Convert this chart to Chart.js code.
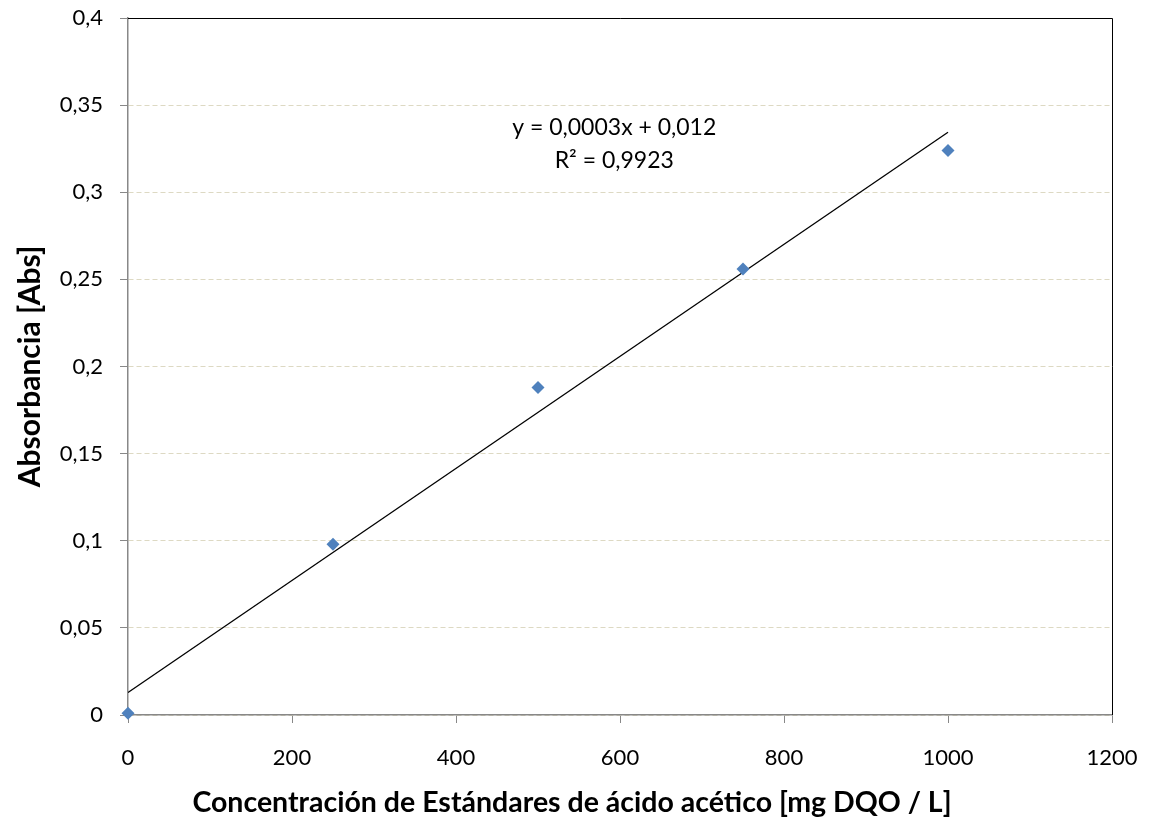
<!DOCTYPE html>
<html lang="es">
<head>
    <meta charset="UTF-8">
    <title>Curva de calibración</title>
    <script src="https://cdn.jsdelivr.net/npm/chart.js"></script>
    <style>
        body {
            margin: 0;
            background: #FFFFFF;
        }

        #wrap {
            width: 1149px;
            height: 819px;
        }
    </style>
</head>
<body>
    <div id="wrap">
        <canvas id="chartCanvas" width="1149" height="819"></canvas>
    </div>

    <script>
        // Standards: concentration [mg DQO / L] and absorbance
        const concentrations = [0, 250, 500, 750, 1000];
        const absorbances = [0.001, 0.098, 0.188, 0.256, 0.324];

        // Trendline end points as drawn (x = 0 and x = 1000)
        const trendX = [0, 1000];
        const trendY = [0.0129, 0.3344];

        const equationLines = ['y = 0,0003x + 0,012', 'R² = 0,9923'];
        const xTitle = 'Concentración de Estándares de ácido acético [mg DQO / L]';

        const FONT = 'Lato, "Open Sans", sans-serif';

        // Black frame on top and right, plus the x axis title (sits left of centre in the original)
        const frame = {
            id: 'frame',
            afterDraw(chart) {
                const { ctx, chartArea: a } = chart;
                ctx.save();
                ctx.strokeStyle = '#000000';
                ctx.lineWidth = 1;
                ctx.beginPath();
                ctx.moveTo(a.left, a.top + 0.5);
                ctx.lineTo(a.right + 0.5, a.top + 0.5);
                ctx.lineTo(a.right + 0.5, a.bottom);
                ctx.stroke();

                ctx.fillStyle = '#000000';
                ctx.font = 'bold 28.5px ' + FONT;
                ctx.textAlign = 'center';
                ctx.textBaseline = 'middle';
                ctx.fillText(xTitle, 572, 803);
                ctx.restore();
            }
        };

        // Trendline equation label
        const equation = {
            id: 'equation',
            afterDatasetsDraw(chart) {
                const { ctx, scales } = chart;
                const cx = scales.x.getPixelForValue(593);
                const y0 = scales.y.getPixelForValue(0.3369);
                ctx.save();
                ctx.fillStyle = '#000000';
                ctx.font = '23px ' + FONT;
                ctx.textAlign = 'center';
                ctx.textBaseline = 'middle';
                equationLines.forEach((t, i) => ctx.fillText(t, cx, y0 + i * 33));
                ctx.restore();
            }
        };

        const ctx = document.getElementById('chartCanvas').getContext('2d');

        new Chart(ctx, {
            type: 'scatter',
            data: {
                datasets: [
                    {
                        label: 'Tendencia',
                        type: 'line',
                        data: trendX.map((x, i) => ({ x: x, y: trendY[i] })),
                        borderColor: '#000000',
                        borderWidth: 1.3,
                        pointRadius: 0,
                        fill: false,
                        order: 2
                    },
                    {
                        label: 'Estándares',
                        data: concentrations.map((x, i) => ({ x: x, y: absorbances[i] })),
                        pointStyle: 'rectRot',
                        pointRadius: 6.5,
                        backgroundColor: '#4F81BD',
                        borderColor: '#4F81BD',
                        borderWidth: 0,
                        clip: false,
                        order: 1
                    }
                ]
            },
            options: {
                responsive: false,
                animation: false,
                layout: {
                    padding: { top: 18, right: 37, left: 12, bottom: 0 }
                },
                plugins: {
                    legend: { display: false },
                    tooltip: { enabled: false }
                },
                scales: {
                    x: {
                        type: 'linear',
                        min: 0,
                        max: 1200,
                        ticks: {
                            stepSize: 200,
                            color: '#000000',
                            padding: 22,
                            font: { family: FONT, size: 22 },
                            callback: v => String(v)
                        },
                        grid: {
                            drawOnChartArea: false,
                            tickLength: 8,
                            tickColor: '#888888'
                        },
                        border: { color: '#888888', width: 1.5 },
                        afterFit(scale) {
                            scale.height = 104;
                            scale.paddingLeft = 0;
                            scale.paddingRight = 0;
                        }
                    },
                    y: {
                        min: 0,
                        max: 0.4,
                        ticks: {
                            stepSize: 0.05,
                            color: '#000000',
                            padding: 17,
                            font: { family: FONT, size: 22 },
                            callback: v => String(+v.toFixed(2)).replace('.', ',')
                        },
                        grid: {
                            color: '#DDD9C3',
                            lineWidth: 1,
                            tickLength: 8,
                            tickColor: '#888888',
                            tickBorderDash: []
                        },
                        border: { color: '#888888', width: 1.5, dash: [5, 3] },
                        title: {
                            display: true,
                            text: 'Absorbancia [Abs]',
                            color: '#000000',
                            font: { family: FONT, size: 30, weight: 'bold' },
                            padding: { top: 0, bottom: 0 }
                        },
                        afterFit(scale) {
                            scale.width = 116;
                            scale.paddingTop = 0;
                            scale.paddingBottom = 0;
                        }
                    }
                }
            },
            plugins: [frame, equation]
        });
    </script>
</body>
</html>
